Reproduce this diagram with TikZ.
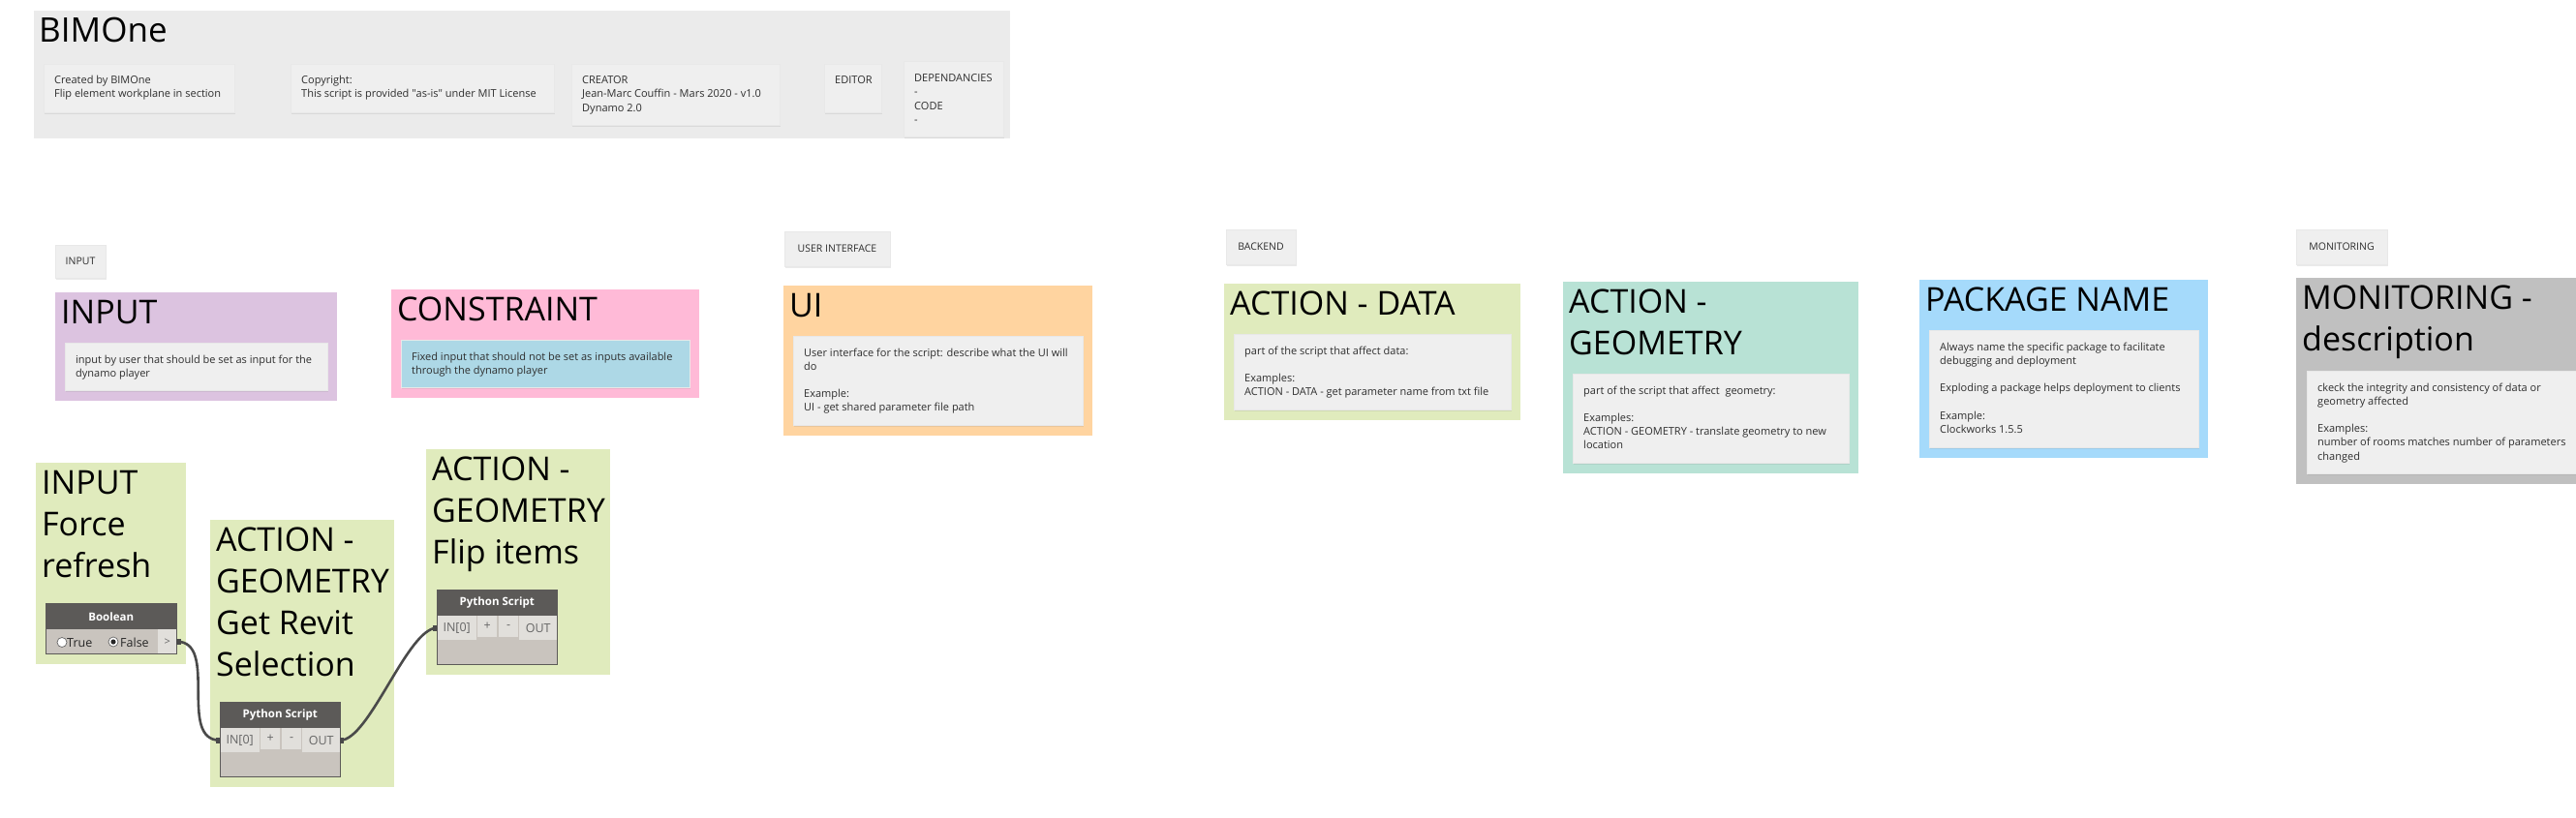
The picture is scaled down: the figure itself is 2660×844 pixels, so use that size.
\documentclass[tikz,border=0pt]{standalone}
\usepackage{fontspec}
\setmainfont{Open Sans}
\usetikzlibrary{shadows}
\definecolor{hdrbg}{HTML}{EBEBEB}
\definecolor{cardbg}{HTML}{EFEFEF}
\definecolor{txtc}{HTML}{2E2E2E}
\definecolor{cpurple}{HTML}{DCC3E0}
\definecolor{cpink}{HTML}{FFBAD7}
\definecolor{clblue}{HTML}{ADD8E6}
\definecolor{corange}{HTML}{FFD4A0}
\definecolor{cgreen}{HTML}{E0EBBD}
\definecolor{cmint}{HTML}{B8E2D5}
\definecolor{cblue}{HTML}{A5DAFB}
\definecolor{cgray}{HTML}{C0C0C0}
\definecolor{dynhead}{HTML}{5C5A58}
\definecolor{dynbody}{HTML}{C9C4BE}
\definecolor{dyncell}{HTML}{E1DFDB}
\definecolor{dyntxt}{HTML}{666666}
\definecolor{wirec}{HTML}{4A4A4A}
\tikzset{
  grp/.style={anchor=north west, inner sep=0pt, outer sep=0pt},
  card/.style={anchor=north west, inner sep=0pt, outer sep=0pt, fill=cardbg, draw=black!9, line width=0.8pt,
    drop shadow={opacity=0.16, shadow xshift=0.5pt, shadow yshift=-1.8pt}},
  bodytxt/.style={anchor=north west, inner sep=0pt, align=left, text=txtc, font=\fontsize{11}{14.2}\selectfont},
  ttl/.style={anchor=north west, inner sep=0pt, align=left, text=black, font=\fontsize{34}{43}\selectfont},
  lbl/.style={card, text=txtc, font=\fontsize{10.5}{13}\selectfont},
  dynhd/.style={anchor=north west, inner sep=0pt, fill=dynhead, text=white, font=\fontsize{11.5}{13}\selectfont\bfseries},
  dynbd/.style={anchor=north west, inner sep=0pt, fill=dynbody},
  dyncl/.style={anchor=north west, inner sep=0pt, fill=dyncell, text=dyntxt, font=\fontsize{12.5}{14}\selectfont},
  dynframe/.style={draw=dynhead, line width=1pt},
  radio/.style={circle, draw=dyntxt, fill=white, minimum size=10pt, inner sep=0pt, line width=0.7pt},
  radiotxt/.style={anchor=west, inner sep=0pt, text=black!85, font=\fontsize{12.5}{14}\selectfont},
  wire/.style={draw=wirec, line width=2.6pt},
}
\newcommand\DynPy[3]{%
  \node[dynbd, minimum width=124pt, minimum height=77pt] (#1) at (#2,#3) {};
  \node[dynhd, minimum width=124pt, minimum height=27pt] (#1-h) at (#2,#3) {Python Script};
  \node[dyncl, minimum width=41pt, minimum height=25pt] (#1-in) at (#2,#3+27) {IN[0]};
  \node[dyncl, minimum width=20pt, minimum height=22pt] (#1-plus) at (#2+42,#3+27) {+};
  \node[dyncl, minimum width=20pt, minimum height=22pt] (#1-minus) at (#2+64,#3+27) {-};
  \node[dyncl, minimum width=39pt, minimum height=25pt] (#1-out) at (#2+85,#3+27) {OUT};
  \draw[dynframe] (#1.north west) rectangle (#1.south east);
}
\begin{document}
\begin{tikzpicture}[x=1pt,y=-1pt]
\useasboundingbox (0,0) rectangle (2660,844);
\clip (0,0) rectangle (2660,844);
\fill[white] (0,0) rectangle (2660,844);

% ---------- header ----------
\node[grp, fill=hdrbg, minimum width=1008pt, minimum height=132pt] (hdr) at (35,11) {};
\node[anchor=base west, inner sep=0pt, font=\fontsize{35}{40}\selectfont] (hdrT) at (40,43) {BIMOne};
\node[card, minimum width=197pt, minimum height=50pt] (hb1) at (45,66) {};
\node[bodytxt] (hb1t) at (56,76.5) {\strut Created by BIMOne\\Flip element workplane in section};
\node[card, minimum width=272pt, minimum height=50pt] (hb2) at (300,66) {};
\node[bodytxt] (hb2t) at (311,76.5) {\strut Copyright:\\This script is provided \textquotedbl as-is\textquotedbl{} under MIT License};
\node[card, minimum width=215pt, minimum height=63pt] (hb3) at (590,66) {};
\node[bodytxt] (hb3t) at (601,76.5) {\strut CREATOR\\Jean-Marc Couffin - Mars 2020 - v1.0\\Dynamo 2.0};
\node[card, minimum width=59pt, minimum height=50pt] (hb4) at (851,66) {};
\node[bodytxt] (hb4t) at (862,76.5) {\strut EDITOR};
\node[card, minimum width=103pt, minimum height=78pt] (hb5) at (933,63) {};
\node[bodytxt] (hb5t) at (944,74.5) {\strut DEPENDANCIES\\-\\CODE\\-};

% ---------- section labels ----------
\node[lbl, minimum width=52pt, minimum height=34pt] (lbInput) at (57,253) {INPUT};
\node[lbl, minimum width=109pt, minimum height=36pt] (lbUI) at (810,239) {USER INTERFACE};
\node[lbl, minimum width=72pt, minimum height=36pt] (lbBack) at (1266,237) {BACKEND};
\node[lbl, minimum width=94pt, minimum height=36pt] (lbMon) at (2371,237) {MONITORING};

% ---------- legend groups ----------
\node[grp, fill=cpurple, minimum width=291pt, minimum height=112pt] (gInput) at (57,302) {};
\node[ttl] (gInputT) at (63,304) {\strut INPUT};
\node[card, minimum width=271pt, minimum height=49pt] (gInputC) at (67.5,354) {};
\node[bodytxt] (gInputX) at (78,365) {\strut input by user that should be set as input for the\\dynamo player};

\node[grp, fill=cpink, minimum width=318pt, minimum height=112pt] (gCon) at (404,299) {};
\node[ttl] (gConT) at (410,301) {\strut CONSTRAINT};
\node[card, fill=clblue, minimum width=298pt, minimum height=49pt] (gConC) at (414,351) {};
\node[bodytxt] (gConX) at (425,362) {\strut Fixed input that should not be set as inputs available\\through the dynamo player};

\node[grp, fill=corange, minimum width=319pt, minimum height=155pt] (gUI) at (809,295) {};
\node[ttl] (gUIT) at (815,297) {\strut UI};
\node[card, minimum width=299pt, minimum height=92pt] (gUIC) at (819,347) {};
\node[bodytxt] (gUIX) at (830,358) {\strut User interface for the script: describe what the UI will\\do\\[14.2pt]Example:\\UI - get shared parameter file path};

\node[grp, fill=cgreen, minimum width=306pt, minimum height=141pt] (gData) at (1264,293) {};
\node[ttl] (gDataT) at (1270,295) {\strut ACTION - DATA};
\node[card, minimum width=286pt, minimum height=78pt] (gDataC) at (1274,345) {};
\node[bodytxt] (gDataX) at (1285,356) {\strut part of the script that affect data:\\[14.2pt]Examples:\\ACTION - DATA - get parameter name from txt file};

\node[grp, fill=cmint, minimum width=305pt, minimum height=198pt] (gGeo) at (1614,291) {};
\node[ttl] (gGeoT) at (1620,293) {\strut ACTION -\\GEOMETRY};
\node[card, minimum width=285pt, minimum height=92pt] (gGeoC) at (1624,386) {};
\node[bodytxt] (gGeoX) at (1635,397) {\strut part of the script that affect\ \ geometry:\\[14.2pt]Examples:\\ACTION - GEOMETRY - translate geometry to new\\location};

\node[grp, fill=cblue, minimum width=298pt, minimum height=184pt] (gPkg) at (1982,289) {};
\node[ttl] (gPkgT) at (1988,291) {\strut PACKAGE NAME};
\node[card, minimum width=278pt, minimum height=121pt] (gPkgC) at (1992,341) {};
\node[bodytxt] (gPkgX) at (2003,352) {\strut Always name the specific package to facilitate\\debugging and deployment\\[14.2pt]Exploding a package helps deployment to clients\\[14.2pt]Example:\\Clockworks 1.5.5};

\node[grp, fill=cgray, minimum width=320pt, minimum height=213pt] (gMon) at (2371,287) {};
\node[ttl] (gMonT) at (2377,289) {\strut MONITORING -\\description};
\node[card, minimum width=300pt, minimum height=106pt] (gMonC) at (2382,383) {};
\node[bodytxt] (gMonX) at (2393,394) {\strut ckeck the integrity and consistency of data or\\geometry affected\\[14.2pt]Examples:\\number of rooms matches number of parameters\\changed};

% ---------- graph groups ----------
\node[grp, fill=cgreen, minimum width=154.5pt, minimum height=208pt] (gForce) at (37,478) {};
\node[ttl] (gForceT) at (43,480) {\strut INPUT\\Force\\refresh};
\node[grp, fill=cgreen, minimum width=190pt, minimum height=276pt] (gSel) at (217,537) {};
\node[ttl] (gSelT) at (223,539) {\strut ACTION -\\GEOMETRY\\Get Revit\\Selection};
\node[grp, fill=cgreen, minimum width=190pt, minimum height=233pt] (gFlip) at (440,464) {};
\node[ttl] (gFlipT) at (446,466) {\strut ACTION -\\GEOMETRY\\Flip items};

% ---------- Boolean node ----------
\node[dynbd, minimum width=135pt, minimum height=52pt] (bool) at (47,623) {};
\node[dynhd, minimum width=135pt, minimum height=27pt] (bool-h) at (47,623) {Boolean};
\node[dyncl, minimum width=19pt, minimum height=25pt, font=\fontsize{11}{12}\selectfont] (bool-out) at (163,650) {>};
\node[radio] (rTrue) at (64,663.5) {};
\node[radiotxt] (lTrue) at (69,664) {True};
\node[radio] (rFalse) at (117,663) {};
\fill[black!85] (rFalse.center) circle (2.6pt);
\node[radiotxt] (lFalse) at (124,664) {False};
\draw[dynframe] (bool.north west) rectangle (bool.south east);

% ---------- Python Script nodes ----------
\DynPy{pa}{227}{725}
\DynPy{pb}{451}{609}

% ---------- wires ----------
\draw[wire] (bool-out.east) .. controls +(44,0) and +(-44,0) .. (pa-in.west);
\draw[wire] (pa-out.east) .. controls +(30,0) and +(-30,0) .. (pb-in.west);
\fill[wirec] (bool-out.east) ++(0,-3) rectangle ++(5,6);
\fill[wirec] (pa-in.west) ++(-4,-3) rectangle ++(4,6);
\fill[wirec] (pa-out.east) ++(0,-3) rectangle ++(4,6);
\fill[wirec] (pb-in.west) ++(-4,-3) rectangle ++(4,6);
\end{tikzpicture}
\end{document}
